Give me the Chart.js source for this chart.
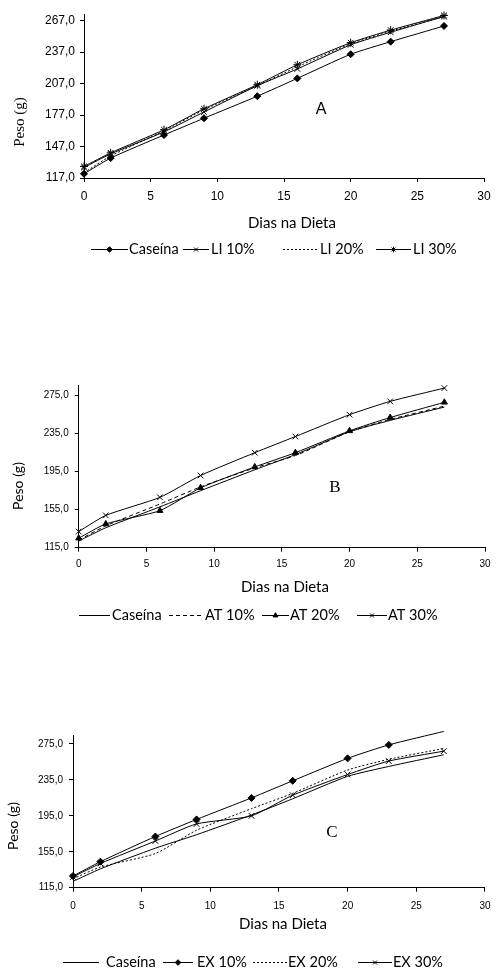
<!DOCTYPE html>
<html><head><meta charset="utf-8">
<script src="https://cdn.jsdelivr.net/npm/chart.js@4.4.1/dist/chart.umd.min.js"></script>
<style>
html,body{margin:0;padding:0;background:#fff;}
body{width:499px;height:970px;position:relative;overflow:hidden;}
canvas{position:absolute;left:0;}
</style></head><body>
<canvas id="cA" width="499" height="260" style="top:0px"></canvas>
<canvas id="cB" width="499" height="270" style="top:360px"></canvas>
<canvas id="cC" width="499" height="250" style="top:720px"></canvas>
<script>
// ---- data ----
const days = [0, 2, 6, 9, 13, 16, 20, 23, 27];
const xTicks = [0, 5, 10, 15, 20, 25, 30];
const yTicksA = [117, 147, 177, 207, 237, 267];
const yTicksBC = [115, 155, 195, 235, 275];

// Panel A
const caseinaA = [121, 136, 158, 174, 195, 212, 235, 247, 262];
const li10 = [127, 140, 161, 180, 205, 221, 244, 256, 271];
const li20 = [122, 138, 162, 182, 205, 223, 245, 257, 271];
const li30 = [128, 141, 163, 183, 206, 225, 246, 258, 272];
// Panel B
const caseinaB = [122, 136, 158, 175, 197, 213, 237, 249, 263];
const at10 = [123, 138, 161, 179, 199, 212, 237, 250, 264];
const at20 = [125, 140, 154, 178, 200, 215, 238, 252, 268];
const at30 = [132, 149, 168, 191, 215, 232, 255, 269, 283];
// Panel C
const caseinaC = [122, 136, 159, 174, 196, 214, 239, 250, 263];
const ex10 = [128, 144, 172, 191, 215, 234, 259, 274, 289];
const ex20 = [125, 138, 153, 179, 203, 220, 246, 258, 270];
const ex30 = [127, 142, 167, 186, 195, 218, 241, 256, 267];

const xTitle = 'Dias na Dieta';
const yTitle = 'Peso (g)';

// ---- helpers ----
const TICKF = '"Liberation Sans", Arial, sans-serif';
const SANS = 'Lato, "Open Sans", sans-serif';
const SERIF = '"Liberation Serif", "Times New Roman", serif';

function ds(label, data, pointStyle, dash, radius) {
  return {
    label, data: days.map((d, i) => ({x: d, y: data[i]})),
    borderColor: '#000', backgroundColor: '#000', borderWidth: 1,
    borderDash: dash || [], tension: 0.2,
    pointStyle: pointStyle || false,
    pointRadius: radius !== undefined ? radius : (pointStyle ? 3.5 : 0),
    pointBorderWidth: 1, pointBackgroundColor: '#000', pointBorderColor: '#000',
    clip: false
  };
}

const deco = {
  id: 'deco',
  afterDraw(chart, args, o) {
    const ctx = chart.ctx;
    ctx.save();
    ctx.fillStyle = '#000';
    ctx.textBaseline = 'middle';
    // y title
    ctx.save();
    ctx.translate(o.yT.x, o.yT.y);
    ctx.rotate(-Math.PI / 2);
    ctx.font = o.yT.font; ctx.textAlign = 'center';
    ctx.fillText(yTitle, 0, 0);
    ctx.restore();
    // x title
    ctx.font = o.xT.font; ctx.textAlign = 'center';
    ctx.fillText(xTitle, o.xT.x, o.xT.y);
    // letter
    ctx.font = o.letter.font;
    ctx.fillText(o.letter.text, o.letter.x, o.letter.y);
    // legend
    ctx.font = o.legend.font; ctx.textAlign = 'left';
    const y = o.legend.y;
    chart.data.datasets.forEach((d, i) => {
      const it = o.legend.items[i];
      ctx.save();
      ctx.strokeStyle = '#000'; ctx.lineWidth = 1;
      ctx.setLineDash(d.borderDash || []);
      ctx.beginPath(); ctx.moveTo(it[0], y + 0.5); ctx.lineTo(it[1], y + 0.5); ctx.stroke();
      ctx.restore();
      if (d.pointStyle) {
        ctx.save();
        ctx.fillStyle = '#000'; ctx.strokeStyle = '#000'; ctx.lineWidth = 1;
        Chart.helpers.drawPoint(ctx, {pointStyle: d.pointStyle, radius: 2.8, rotation: 0, borderWidth: 1}, (it[0] + it[1]) / 2, y + 0.5);
        ctx.restore();
      }
      ctx.fillStyle = '#000';
      ctx.fillText(d.label, it[2], y);
    });
    ctx.restore();
  }
};

function makeChart(id, datasets, p) {
  new Chart(document.getElementById(id), {
    type: 'line',
    data: {datasets},
    plugins: [deco],
    options: {
      responsive: false, animation: false, events: [],
      layout: {padding: {top: p.padTop, right: p.padRight, bottom: p.padBottom, left: 0}},
      plugins: {legend: {display: false}, tooltip: {enabled: false}, deco: p.deco},
      scales: {
        x: {
          type: 'linear', min: 0, max: 30,
          afterBuildTicks: s => { s.ticks = xTicks.map(v => ({value: v})); },
          afterFit: s => { s.height = p.xH; },
          ticks: {font: {family: TICKF, size: p.tickSize}, color: '#000', padding: p.xPad, maxRotation: 0},
          grid: {drawOnChartArea: false, color: '#000', tickLength: 4, lineWidth: 1},
          border: {color: '#000', width: 1}
        },
        y: {
          type: 'linear', min: p.yMin, max: p.yMax,
          afterBuildTicks: s => { s.ticks = p.yTicks.map(v => ({value: v})); },
          afterFit: s => { s.width = p.yW; },
          ticks: {font: {family: TICKF, size: p.tickSize}, color: '#000', padding: p.yPad,
                  callback: v => v.toFixed(1).replace('.', ',')},
          grid: {drawOnChartArea: false, color: '#000', tickLength: 4, lineWidth: 1},
          border: {color: '#000', width: 1}
        }
      }
    }
  });
}

makeChart('cA', [
  ds('Caseína', caseinaA, 'rectRot'),
  ds('LI 10%', li10, 'crossRot', [], 4),
  ds('LI 20%', li20, false, [2, 2]),
  ds('LI 30%', li30, 'star', [], 4)
], {
  padTop: 14, padRight: 15, padBottom: 28, xH: 54, yW: 84,
  yMin: 117, yMax: 273.4, yTicks: yTicksA, tickSize: 12, xPad: 7, yPad: 5,
  deco: {
    yT: {x: 20, y: 122, font: '15px ' + SERIF},
    xT: {x: 292, y: 223, font: '15px ' + SANS},
    letter: {text: 'A', x: 321, y: 110, font: '16px ' + TICKF},
    legend: {y: 249, font: '14.5px ' + SANS, items: [[91, 128, 129], [183, 209, 211], [283, 317, 320], [376, 411, 413]]}
  }
});

makeChart('cB', [
  ds('Caseína', caseinaB, false),
  ds('AT 10%', at10, false, [4, 3]),
  ds('AT 20%', at20, 'triangle'),
  ds('AT 30%', at30, 'crossRot', [], 4)
], {
  padTop: 25.7, padRight: 14, padBottom: 35, xH: 47.3, yW: 78.7,
  yMin: 115, yMax: 285.5, yTicks: yTicksBC, tickSize: 10, xPad: 7, yPad: 6,
  deco: {
    yT: {x: 18, y: 126, font: '14px ' + SANS},
    xT: {x: 285, y: 227, font: '15px ' + SANS},
    letter: {text: 'B', x: 335, y: 128, font: '17px ' + SERIF},
    legend: {y: 255, font: '14.5px ' + SANS, items: [[79, 110, 112], [169, 202, 205], [262, 289, 290], [357, 387, 388]]}
  }
});

makeChart('cC', [
  ds('Caseína', caseinaC, false),
  ds('EX 10%', ex10, 'rectRot', [], [3.5, 3.5, 3.5, 3.5, 3.5, 3.5, 3.5, 3.5, 0]),
  ds('EX 20%', ex20, false, [2, 2]),
  ds('EX 30%', ex30, 'crossRot', [], 4)
], {
  padTop: 15, padRight: 9, padBottom: 37.6, xH: 44.7, yW: 73,
  yMin: 115, yMax: 285, yTicks: yTicksBC, tickSize: 10, xPad: 8.5, yPad: 6,
  deco: {
    yT: {x: 13, y: 106, font: '14px ' + SANS},
    xT: {x: 283, y: 204, font: '15px ' + SANS},
    letter: {text: 'C', x: 332, y: 113, font: '17px ' + SERIF},
    legend: {y: 242, font: '14.5px ' + SANS, items: [[63, 99, 106], [163, 193, 197], [253, 287, 288], [358, 392, 393]]}
  }
});
</script>
</body></html>
